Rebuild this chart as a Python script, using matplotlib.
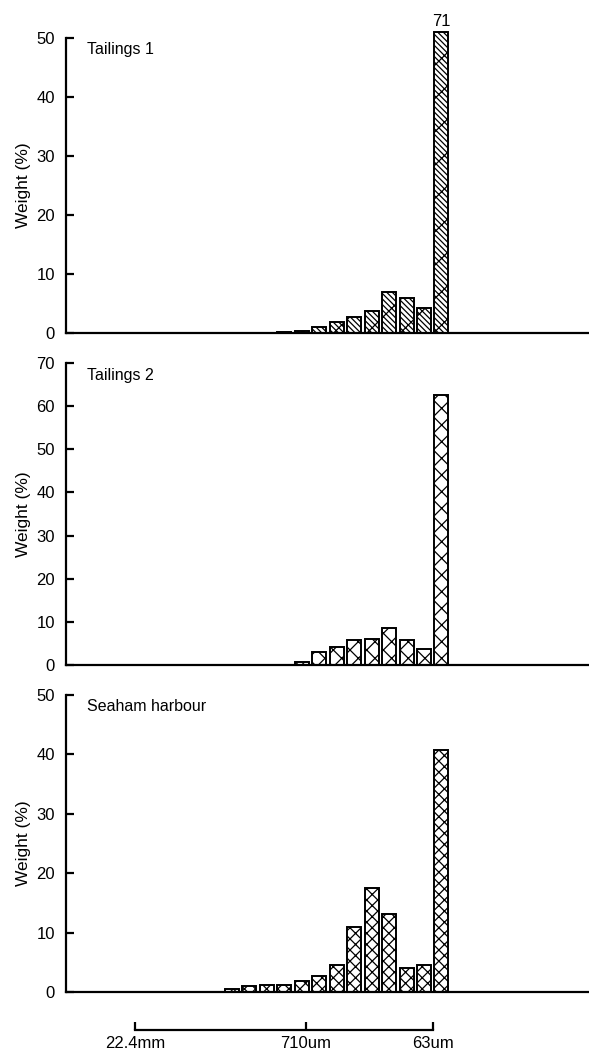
import numpy as np
import matplotlib
matplotlib.use("Agg")
import matplotlib.pyplot as plt

plt.rcParams['font.family'] = ['Liberation Sans', 'DejaVu Sans']
plt.rcParams['hatch.linewidth'] = 0.9

# half-phi sieve classes from 22.4 mm down to 63 um, plus the <63 um pan (index 17)
bins = np.arange(18)
tailings1 = [0, 0, 0, 0, 0, 0, 0, 0, 0.2, 0.4, 1.0, 1.8, 2.7, 3.8, 7.0, 6.0, 4.2, 71]
tailings2 = [0, 0, 0, 0, 0, 0, 0, 0, 0, 0.6, 3.0, 4.2, 5.8, 6.0, 8.5, 5.8, 3.7, 62.5]
seaham = [0, 0, 0, 0, 0, 0.5, 1.0, 1.2, 1.2, 1.8, 2.7, 4.5, 11.0, 17.5, 13.2, 4.0, 4.6, 40.8]
panel_names = ["Tailings 1", "Tailings 2", "Seaham harbour"]
y_max = [50, 70, 50]
y_ticks = [[0, 10, 20, 30, 40, 50], [0, 10, 20, 30, 40, 50, 60, 70], [0, 10, 20, 30, 40, 50]]
scale_ticks = [0, 9.75, 17]
scale_labels = ["22.4mm", "710um", "63um"]

series = [tailings1, tailings2, seaham]
hatches = ['\\\\\\\\\\\\/', 'xx', 'xxx']

W, H = 589, 1060
fig = plt.figure(figsize=(W / 100, H / 100), dpi=100)

xlim = (-3.96, 25.93)
left = 66 / W
width = 1 - left
# (zero pixel row, top pixel row)
rows = [(333, 38), (665, 363), (992, 695)]

for k, (vals, name, ym, yt, (y0, y1), hat) in enumerate(
        zip(series, panel_names, y_max, y_ticks, rows, hatches)):
    ax = fig.add_axes([left, 1 - y0 / H, width, (y0 - y1) / H])
    vals = np.asarray(vals, dtype=float)
    shown = np.minimum(vals, ym + 1)
    ax.bar(bins + 0.5, shown, width=0.8, color='white', edgecolor='black',
           linewidth=1.4, hatch=hat, clip_on=False, zorder=3)
    for i, v in enumerate(vals):
        if v > ym + 1:
            ax.text(i + 0.5, ym + 1.5, f"{v:g}", ha='center', va='bottom', fontsize=12)
    ax.set_xlim(*xlim)
    ax.set_ylim(0, ym)
    ax.set_yticks(yt)
    ax.set_xticks([])
    for s in ['top', 'right']:
        ax.spines[s].set_visible(False)
    ax.spines['left'].set_bounds(0, ym)
    ax.spines['left'].set_linewidth(1.6)
    ax.spines['bottom'].set_linewidth(1.6)
    ax.spines['bottom'].set_zorder(4)
    ax.tick_params(axis='y', direction='in', length=6, width=1.6, labelsize=12, pad=8)
    ax.set_ylabel("Weight (%)", fontsize=12.5, labelpad=4)
    ax.text(0.04, 0.985, name, transform=ax.transAxes, ha='left', va='top', fontsize=11.5)
    ax.patch.set_alpha(0)

# size scale bar at the bottom
sax = fig.add_axes([left, 1 - 1030 / H, width, 0.001])
sax.set_xlim(*xlim)
sax.set_yticks([])
for s in ['top', 'right', 'left']:
    sax.spines[s].set_visible(False)
sax.spines['bottom'].set_bounds(scale_ticks[0], scale_ticks[-1])
sax.spines['bottom'].set_linewidth(1.6)
sax.set_xticks(scale_ticks)
sax.set_xticklabels(scale_labels, fontsize=12)
sax.tick_params(axis='x', direction='in', length=6, width=1.6, pad=4)
sax.patch.set_alpha(0)

fig.savefig("out.png", dpi=100)
